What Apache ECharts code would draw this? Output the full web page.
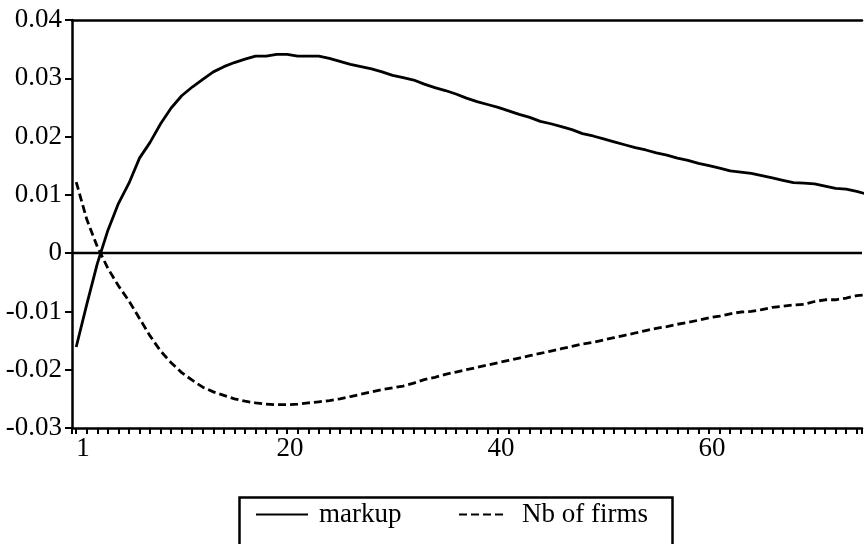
<!DOCTYPE html>
<html>
<head>
<meta charset="utf-8">
<script src="https://cdn.jsdelivr.net/npm/echarts@6/dist/echarts.min.js"></script>
<style>
html,body{margin:0;padding:0;background:#fff;}
#chart{width:865px;height:544px;}
</style>
</head>
<body>
<div id="chart"></div>
<script>
// Periods 1..76
const periods = [];
for (let i = 1; i <= 76; i++) periods.push(i);

const markup = [
 -0.0161,-0.0088,-0.0018,0.0039,0.0085,0.0120,0.0163,0.0190,0.0222,0.0249,
  0.0270,0.0285,0.0298,0.0311,0.0320,0.0327,0.0333,0.0338,0.0338,0.0341,
  0.0341,0.0338,0.0338,0.0338,0.0334,0.0329,0.0324,0.0320,0.0316,0.0311,
  0.0305,0.0301,0.0297,0.0290,0.0284,0.0279,0.0273,0.0266,0.0260,0.0255,
  0.0250,0.0244,0.0238,0.0233,0.0226,0.0222,0.0217,0.0212,0.0205,0.0201,
  0.0196,0.0191,0.0186,0.0181,0.0177,0.0172,0.0168,0.0163,0.0159,0.0154,
  0.0150,0.0146,0.0141,0.0139,0.0137,0.0133,0.0129,0.0125,0.0121,0.0120,
  0.0119,0.0115,0.0111,0.0110,0.0106,0.0101
];

const nbFirms = [
  0.0122,0.0058,0.0011,-0.0026,-0.0056,-0.0082,-0.0112,-0.0142,-0.0168,-0.0188,
 -0.0205,-0.0218,-0.0230,-0.0238,-0.0244,-0.0250,-0.0254,-0.0257,-0.0259,-0.0260,
 -0.0260,-0.0259,-0.0257,-0.0255,-0.0253,-0.0250,-0.0246,-0.0242,-0.0238,-0.0234,
 -0.0231,-0.0228,-0.0223,-0.0217,-0.0213,-0.0208,-0.0204,-0.0200,-0.0196,-0.0192,
 -0.0188,-0.0184,-0.0180,-0.0176,-0.0172,-0.0168,-0.0164,-0.0160,-0.0156,-0.0153,
 -0.0149,-0.0145,-0.0141,-0.0137,-0.0133,-0.0129,-0.0126,-0.0122,-0.0119,-0.0115,
 -0.0111,-0.0108,-0.0104,-0.0101,-0.0100,-0.0097,-0.0093,-0.0091,-0.0089,-0.0088,
 -0.0083,-0.0080,-0.0080,-0.0077,-0.0073,-0.0071
];

const xTickLabels = [1, 20, 40, 60];
const yTickLabels = ['-0.03','-0.02','-0.01','0','0.01','0.02','0.03','0.04'];
const seriesNames = ['markup', 'Nb of firms'];

const FONT = '"Liberation Serif", "DejaVu Serif", serif';
const XMIN = 0.6, XMAX = 75.5;

const chart = echarts.init(document.getElementById('chart'), null, {renderer: 'canvas'});

const option = {
  backgroundColor: '#fff',
  animation: false,
  grid: {left: 72, top: 20, right: 0, bottom: 116, containLabel: false},
  xAxis: [{
    type: 'value', min: XMIN, max: XMAX,
    minInterval: 1, maxInterval: 1, splitNumber: 80,
    axisLine: {show: true, onZero: false, lineStyle: {color: '#000', width: 2.5}},
    axisTick: {show: true, inside: false, length: 6, lineStyle: {color: '#000', width: 2}},
    axisLabel: {
      show: true, align: 'left', margin: 7, color: '#000',
      fontFamily: FONT, fontSize: 27,
      showMinLabel: true, showMaxLabel: true,
      formatter: v => {
        const r = Math.round(v);
        return (Math.abs(v - r) < 1e-6 && xTickLabels.indexOf(r) >= 0) ? String(r) : '';
      }
    },
    splitLine: {show: false}
  }, {
    type: 'value', min: XMIN, max: XMAX, position: 'top',
    axisLine: {show: true, onZero: false, lineStyle: {color: '#000', width: 2.5}},
    axisTick: {show: false}, axisLabel: {show: false}, splitLine: {show: false}
  }],
  yAxis: {
    type: 'value', min: -0.03, max: 0.04, interval: 0.01,
    axisLine: {show: true, onZero: false, lineStyle: {color: '#000', width: 2.5}},
    axisTick: {show: true, length: 7, lineStyle: {color: '#000', width: 2}},
    axisLabel: {
      margin: 10, color: '#000', fontFamily: FONT, fontSize: 27,
      padding: [5, 0, 0, 0],
      formatter: v => {
        const idx = Math.round((v + 0.03) / 0.01);
        return yTickLabels[idx] !== undefined ? yTickLabels[idx] : '';
      }
    },
    splitLine: {show: false}
  },
  legend: [{
    data: [seriesNames[0]],
    left: 250, top: 496, itemWidth: 52, itemHeight: 26, itemGap: 0,
    itemStyle: {opacity: 0},
    textStyle: {color: '#000', fontFamily: FONT, fontSize: 27, padding: [0, 0, 0, 6]},
    selectedMode: false
  }, {
    data: [seriesNames[1]],
    left: 453, top: 496, itemWidth: 44, itemHeight: 26, itemGap: 0,
    itemStyle: {opacity: 0},
    textStyle: {color: '#000', fontFamily: FONT, fontSize: 27, padding: [0, 0, 0, 14]},
    selectedMode: false
  }],
  graphic: [{
    type: 'rect', left: 237, top: 495,
    shape: {width: 433, height: 70},
    style: {fill: 'none', stroke: '#000', lineWidth: 2.5},
    silent: true, z: 0
  }],
  series: [{
    name: seriesNames[0], type: 'line', xAxisIndex: 0,
    data: periods.map((p, i) => [p, markup[i]]),
    symbol: 'none', showSymbol: false, smooth: false,
    lineStyle: {color: '#000', width: 2.8, type: 'solid'},
    itemStyle: {color: '#000'},
    markLine: {
      silent: true, symbol: 'none', label: {show: false},
      lineStyle: {color: '#000', width: 2.4, type: 'solid'},
      data: [{yAxis: 0}]
    }
  }, {
    name: seriesNames[1], type: 'line', xAxisIndex: 0,
    data: periods.map((p, i) => [p, nbFirms[i]]),
    symbol: 'none', showSymbol: false, smooth: false,
    lineStyle: {color: '#000', width: 2.8, type: [8, 4]},
    itemStyle: {color: '#000'}
  }]
};
chart.setOption(option);
</script>
</body>
</html>
